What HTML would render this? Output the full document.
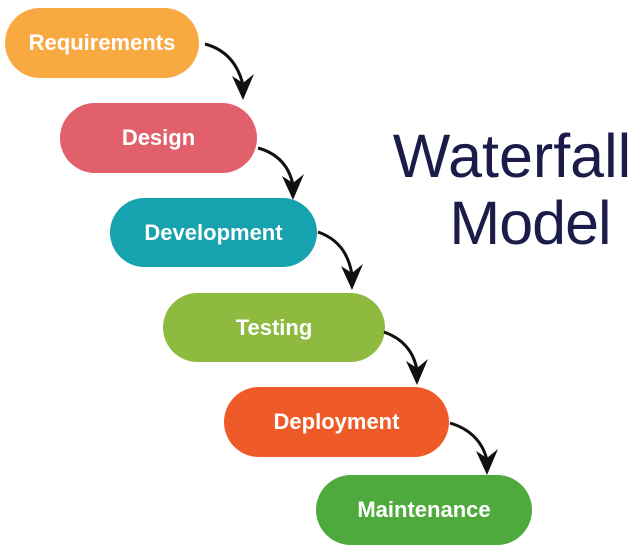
<!DOCTYPE html>
<html><head><style>
html,body{margin:0;padding:0;background:#fff;width:643px;height:552px;overflow:hidden}
.p{position:absolute;border-radius:36px;color:#fff;font:bold 22px "Liberation Sans",sans-serif;display:flex;align-items:center;justify-content:center}
.t{position:absolute;font:61px "Liberation Sans",sans-serif;color:#1c1c4a;text-align:center;width:300px;line-height:70px}
</style></head><body>
<div class="p" style="left:5px;top:8px;width:194px;height:70px;background:#F9A941">Requirements</div>
<div class="p" style="left:60px;top:103px;width:197px;height:70px;background:#E2606B">Design</div>
<div class="p" style="left:110px;top:198px;width:207px;height:69px;background:#17A2AF">Development</div>
<div class="p" style="left:163px;top:293px;width:222px;height:69px;background:#8DBA3F">Testing</div>
<div class="p" style="left:224px;top:387px;width:225px;height:70px;background:#EE5A28">Deployment</div>
<div class="p" style="left:316px;top:475px;width:216px;height:70px;background:#4FAA3E">Maintenance</div>
<div class="t" style="left:362px;top:121px">Waterfall</div>
<div class="t" style="left:380px;top:188px;letter-spacing:-1px">Model</div>
<svg width="643" height="552" style="position:absolute;left:0;top:0">
<g fill="none" stroke="#111" stroke-width="3">
<path d="M205 44 Q235 52 243 85"/>
<path d="M258 148 Q287 156 293 185"/>
<path d="M318 232 Q347 242 352 275"/>
<path d="M384 332 Q412 342 417 370"/>
<path d="M450 423 Q480 432 487 460"/>
</g>
<g fill="#111">
<path d="M232 76 L243 100 L254 74 L243 83Z"/>
<path d="M282 176 L293 200 L304 174 L293 183Z"/>
<path d="M341 266 L352 290 L363 264 L352 273Z"/>
<path d="M406 361 L417 385 L428 359 L417 368Z"/>
<path d="M476 451 L487 475 L498 449 L487 458Z"/>
</g>
</svg>
</body></html>
